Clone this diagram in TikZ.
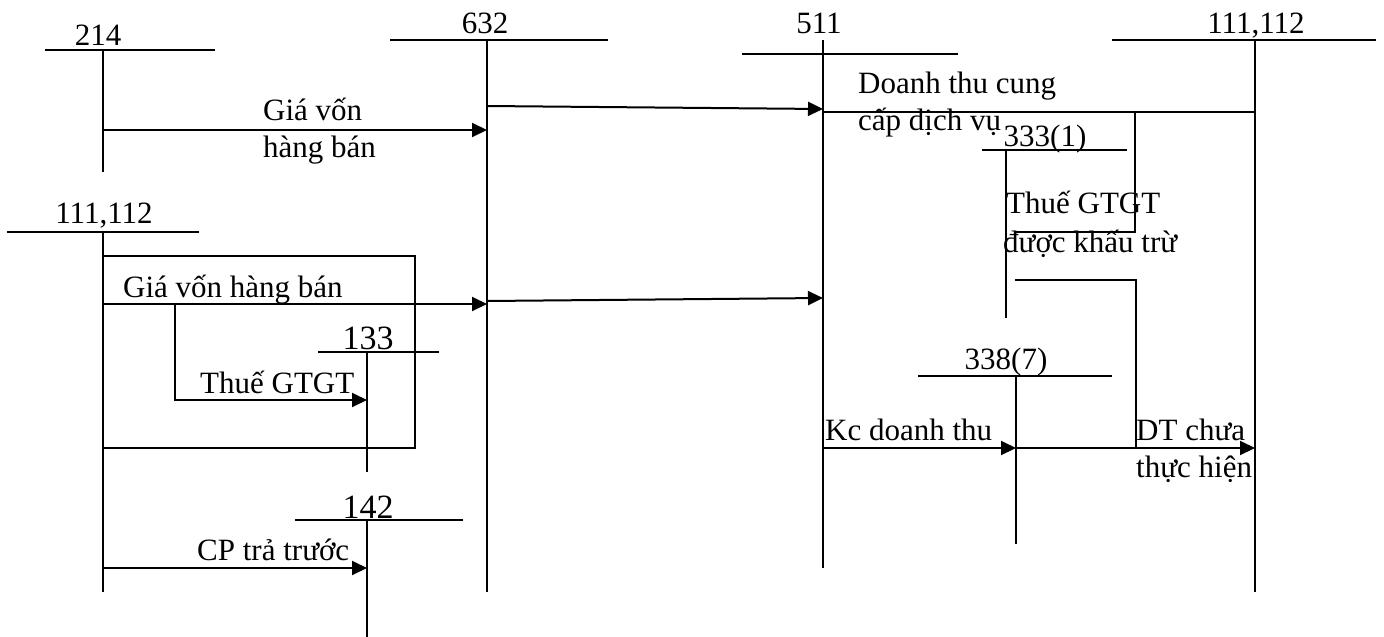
\documentclass[tikz,border=0pt]{standalone}
\usepackage{fontspec}
\setmainfont{Liberation Serif}
\usetikzlibrary{arrows.meta}
\tikzset{
  acct/.style={line width=1.8pt},
  conn/.style={line width=2pt},
  arr/.style={line width=2pt,-{Triangle[length=15pt,width=14pt]}},
  lbl/.style={inner sep=0pt,anchor=base west,font=\fontsize{31}{37}\selectfont},
  num/.style={inner sep=0pt,anchor=base,font=\fontsize{31}{37}\selectfont},
  bignum/.style={inner sep=0pt,anchor=base,font=\fontsize{34}{40}\selectfont}
}
\begin{document}
\begin{tikzpicture}[x=1pt,y=-1pt]
\useasboundingbox (0,0) rectangle (1384,637);

% ---------- account T-lines ----------
% 214
\coordinate (h214a) at (45,50); \coordinate (h214b) at (215,50);
\coordinate (v214a) at (103,50); \coordinate (v214b) at (103,172);
\draw[acct] (h214a) -- (h214b); \draw[acct] (v214a) -- (v214b);
\node[num] (n214) at (98,45) {214};
% 632
\coordinate (h632a) at (390,40); \coordinate (h632b) at (608,40);
\coordinate (v632a) at (487,40); \coordinate (v632b) at (487,592);
\draw[acct] (h632a) -- (h632b); \draw[acct] (v632a) -- (v632b);
\node[num] (n632) at (485,33) {632};
% 511
\coordinate (h511a) at (742,54); \coordinate (h511b) at (958,54);
\coordinate (v511a) at (823,40); \coordinate (v511b) at (823,568);
\draw[acct] (h511a) -- (h511b); \draw[acct] (v511a) -- (v511b);
\node[num] (n511) at (819,33) {511};
% 111,112 right
\coordinate (hRa) at (1112,40); \coordinate (hRb) at (1376,40);
\coordinate (vRa) at (1255,40); \coordinate (vRb) at (1255,592);
\draw[acct] (hRa) -- (hRb); \draw[acct] (vRa) -- (vRb);
\node[num] (nR) at (1256,33) {111,112};
% 111,112 left
\coordinate (hLa) at (7,232); \coordinate (hLb) at (199,232);
\coordinate (vLa) at (103,232); \coordinate (vLb) at (103,592);
\draw[acct] (hLa) -- (hLb); \draw[acct] (vLa) -- (vLb);
\node[num] (nL) at (104,223) {111,112};
% 133
\coordinate (h133a) at (318,352); \coordinate (h133b) at (439,352);
\coordinate (v133a) at (367,352); \coordinate (v133b) at (367,472);
\draw[acct] (h133a) -- (h133b); \draw[acct] (v133a) -- (v133b);
\node[bignum] (n133) at (368,349) {133};
% 142
\coordinate (h142a) at (295,520); \coordinate (h142b) at (463,520);
\coordinate (v142a) at (367,520); \coordinate (v142b) at (367,637);
\draw[acct] (h142a) -- (h142b); \draw[acct] (v142a) -- (v142b);
\node[bignum] (n142) at (368,518) {142};
% 333(1)
\coordinate (h333a) at (982,150); \coordinate (h333b) at (1127,150);
\coordinate (v333a) at (1006,150); \coordinate (v333b) at (1006,318);
\draw[acct] (h333a) -- (h333b); \draw[acct] (v333a) -- (v333b);
\node[num] (n333) at (1045,146) {333(1)};
% 338(7)
\coordinate (h338a) at (918,376); \coordinate (h338b) at (1112,376);
\coordinate (v338a) at (1016,376); \coordinate (v338b) at (1016,544);
\draw[acct] (h338a) -- (h338b); \draw[acct] (v338a) -- (v338b);
\node[num] (n338) at (1006,369) {338(7)};

% ---------- connectors ----------
% 214 -> 632
\coordinate (c1a) at (103,130); \coordinate (c1b) at (487,130);
\draw[arr] (c1a) -- (c1b);
\node[lbl] (l1a) at (263,120) {Giá vốn};
\node[lbl] (l1b) at (263,157) {hàng bán};
% 632 -> 511 (top)
\coordinate (c2a) at (487,106); \coordinate (c2b) at (823,109);
\draw[arr] (c2a) -- (c2b);
% 111,112 -- 511
\coordinate (c3a) at (823,112); \coordinate (c3b) at (1255,112);
\draw[conn] (c3a) -- (c3b);
\node[lbl] (l3a) at (858,93) {Doanh thu cung};
\node[lbl] (l3b) at (858,130) {cấp dịch vụ};
% branch to 333(1)
\coordinate (c4a) at (1135,112); \coordinate (c4b) at (1135,232); \coordinate (c4c) at (1015,232);
\draw[acct] (c4a) -- (c4b) -- (c4c);
\node[lbl] (l4a) at (1006,213) {Thuế GTGT};
\node[lbl] (l4b) at (1003,252) {được khấu trừ};
% second branch
\coordinate (c5a) at (1015,280); \coordinate (c5b) at (1136,280); \coordinate (c5c) at (1136,448);
\draw[acct] (c5a) -- (c5b) -- (c5c);
% 511 -> 338(7)
\coordinate (c6a) at (823,448); \coordinate (c6b) at (1016,448);
\draw[arr] (c6a) -- (c6b);
\node[lbl] (l6) at (825,440) {Kc doanh thu};
% 338(7) -> 111,112
\coordinate (c7b) at (1255,448);
\draw[arr] (c6b) -- (c7b);
\node[lbl] (l7a) at (1136,440) {DT chưa};
\node[lbl] (l7b) at (1136,477) {thực hiện};
% box
\coordinate (b1) at (103,256); \coordinate (b2) at (415,256);
\coordinate (b3) at (415,448); \coordinate (b4) at (103,448);
\draw[acct] (b1) -- (b2) -- (b3) -- (b4);
% 111,112 -> 632
\coordinate (c9a) at (103,304); \coordinate (c9b) at (487,304);
\draw[arr] (c9a) -- (c9b);
\node[lbl] (l9) at (123,297) {Giá vốn hàng bán};
% branch to 133
\coordinate (c10a) at (175,304); \coordinate (c10b) at (175,400); \coordinate (c10c) at (367,400);
\draw[arr] (c10a) -- (c10b) -- (c10c);
\node[lbl] (l10) at (200,393) {Thuế GTGT};
% 632 -> 511 (bottom)
\coordinate (c11a) at (487,301); \coordinate (c11b) at (823,298);
\draw[arr] (c11a) -- (c11b);
% 111,112 -> 142
\coordinate (c12a) at (103,568); \coordinate (c12b) at (367,568);
\draw[arr] (c12a) -- (c12b);
\node[lbl] (l12) at (197,560) {CP trả trước};
\end{tikzpicture}
\end{document}
